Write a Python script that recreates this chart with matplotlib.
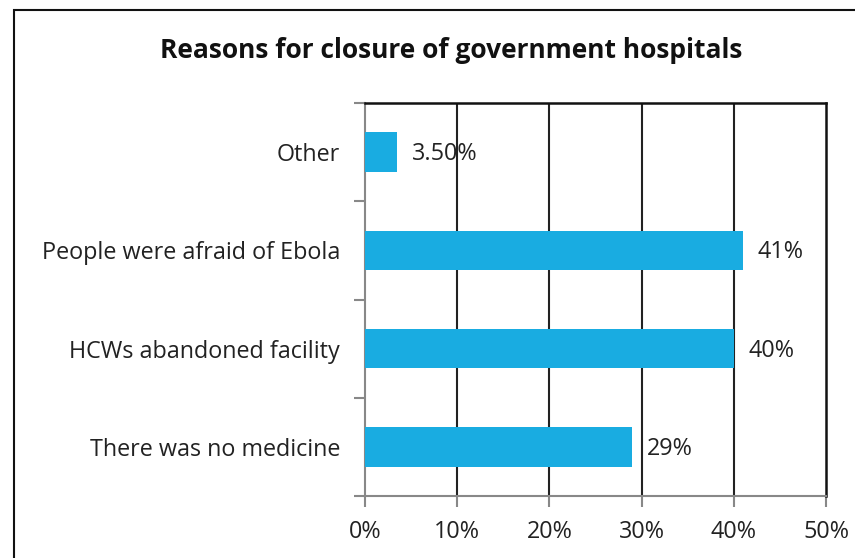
import matplotlib
matplotlib.use("Agg")
import matplotlib.pyplot as plt
from matplotlib.patches import Rectangle

categories = ["There was no medicine", "HCWs abandoned facility",
              "People were afraid of Ebola", "Other"]
values = [29, 40, 41, 3.5]
value_labels = ["29%", "40%", "41%", "3.50%"]
xticks = [0, 10, 20, 30, 40, 50]
xtick_labels = ["0%", "10%", "20%", "30%", "40%", "50%"]
title = "Reasons for closure of government hospitals"

plt.rcParams['font.family'] = ['Open Sans', 'DejaVu Sans']

fig = plt.figure(figsize=(8.55, 5.58), dpi=100)
ax = fig.add_axes([365/855, 1-496/558, (826-365)/855, (496-103)/558])

fs = 16.8
bar_color = "#19ACE1"
ypos = list(range(len(categories)))
ax.barh(ypos, values, height=0.4, color=bar_color, zorder=3)
for y, v, lab in zip(ypos, values, value_labels):
    ax.text(v + 1.6, y - 0.02, lab, va="center", ha="left", fontsize=fs,
            color="#222222", zorder=4)

ax.set_xlim(0, 50)
ax.set_ylim(-0.5, len(categories) - 0.5)
ax.set_xticks(xticks)
ax.set_xticklabels(xtick_labels, fontsize=fs, color="#222222")
ax.set_yticks(ypos)
ax.set_yticklabels(categories, fontsize=fs, color="#222222")
ax.set_yticks([i - 0.5 for i in range(len(categories) + 1)], minor=True)
ax.tick_params(axis="y", which="major", length=0, pad=18)
ax.tick_params(axis="y", which="minor", length=8, color="#888888", width=1.5)
ax.tick_params(axis="x", which="major", length=8, color="#888888", width=1.5, pad=9)

for x in xticks[1:-1]:
    ax.axvline(x, color="#222222", lw=1.5, zorder=2)
for s in ["left", "bottom"]:
    ax.spines[s].set_color("#888888")
    ax.spines[s].set_linewidth(1.5)
for s in ["top", "right"]:
    ax.spines[s].set_color("#111111")
    ax.spines[s].set_linewidth(1.8)

fig.text(451/855, 1-50/558, title, ha="center", va="center",
         fontsize=19, fontweight="bold", color="#111111")

fig.patches.append(Rectangle((14/855, -0.1), 1.2, 1 - 10/558 + 0.1,
                             transform=fig.transFigure, fill=False,
                             edgecolor="#111111", linewidth=1.5))

fig.savefig("out.png", dpi=100)
